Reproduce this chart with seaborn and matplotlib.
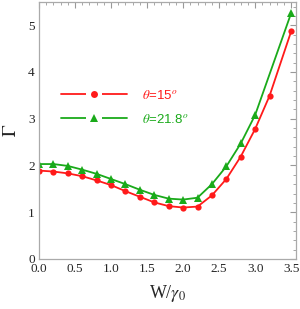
import numpy as np
import pandas as pd
import matplotlib
matplotlib.use("Agg")
import matplotlib.pyplot as plt
from matplotlib.lines import Line2D
from matplotlib.legend_handler import HandlerTuple
from matplotlib.ticker import MultipleLocator
import seaborn as sns

# Data
x_red = [0.0, 0.2, 0.4, 0.6, 0.8, 1.0, 1.2, 1.4, 1.6, 1.8, 2.0, 2.2, 2.4, 2.6, 2.8, 3.0, 3.2, 3.5]
y_red = [1.89, 1.87, 1.83, 1.77, 1.68, 1.58, 1.45, 1.33, 1.21, 1.13, 1.10, 1.12, 1.36, 1.71, 2.19, 2.78, 3.49, 4.87]
x_green = [0.0, 0.2, 0.4, 0.6, 0.8, 1.0, 1.2, 1.4, 1.6, 1.8, 2.0, 2.2, 2.4, 2.6, 2.8, 3.0, 3.5]
y_green = [2.03, 2.03, 1.99, 1.91, 1.82, 1.71, 1.60, 1.48, 1.37, 1.29, 1.27, 1.31, 1.60, 1.98, 2.47, 3.08, 5.26]
labels = [r"$\theta$=15$^o$", r"$\theta$=21.8$^o$"]
xticks = [0.0, 0.5, 1.0, 1.5, 2.0, 2.5, 3.0, 3.5]
yticks = [0, 1, 2, 3, 4, 5]

sns.set_style("white")
plt.rcParams["font.family"] = ["Liberation Serif", "DejaVu Serif"]
plt.rcParams["mathtext.fontset"] = "stix"

RED = "#ff1a1a"
GREEN = "#1aaa1a"

fig = plt.figure(figsize=(3.0, 3.09), dpi=100)
ax = fig.add_axes([0.13, 0.162, 0.855, 0.832])

sns.lineplot(x=x_red, y=y_red, ax=ax, color=RED, lw=1.3, marker="o", markersize=4.5,
             markeredgewidth=0, sort=False)
sns.lineplot(x=x_green, y=y_green, ax=ax, color=GREEN, lw=1.3, marker="^", markersize=5.5,
             markeredgewidth=0, sort=False)

ax.set_xlim(0, 3.56)
ax.set_ylim(0, 5.5)
ax.set_xticks(xticks)
ax.set_xticklabels([f"{v:.1f}" for v in xticks])
ax.set_yticks(yticks)
ax.set_yticklabels([str(v) for v in yticks])
ax.xaxis.set_minor_locator(MultipleLocator(0.1))
ax.yaxis.set_minor_locator(MultipleLocator(0.2))
ax.tick_params(which="both", direction="in", top=True, right=True, color="#999999",
               labelsize=9.5, pad=3)
ax.tick_params(which="major", length=4, width=0.8)
ax.tick_params(which="minor", length=2, width=0.6)
for s in ax.spines.values():
    s.set_color("#aaaaaa")
    s.set_linewidth(0.9)

ax.set_xlabel(r"W/$\gamma_0$", fontsize=13, labelpad=6)
ax.set_ylabel(r"$\Gamma$", fontsize=14, rotation=90, labelpad=6)


def entry(color, marker, ms):
    line = Line2D([], [], color=color, lw=1.3)
    gap = Line2D([], [], linestyle="none", marker="s", markersize=11.5,
                 markerfacecolor="white", markeredgewidth=0)
    mk = Line2D([], [], linestyle="none", marker=marker, markersize=ms,
                markerfacecolor=color, markeredgewidth=0)
    return (line, gap, mk)


handles = [entry(RED, "o", 5), entry(GREEN, "^", 5.5)]
leg = ax.legend(handles, labels, loc="center left", bbox_to_anchor=(0.04, 0.59),
                frameon=False, handlelength=5.0, handletextpad=1.1, labelspacing=0.85,
                numpoints=1, handler_map={tuple: HandlerTuple(ndivide=1, pad=0)},
                prop={"family": ["Liberation Sans"], "size": 9.5})
for t, c in zip(leg.get_texts(), [RED, GREEN]):
    t.set_color(c)

fig.savefig("out.png", dpi=100)
